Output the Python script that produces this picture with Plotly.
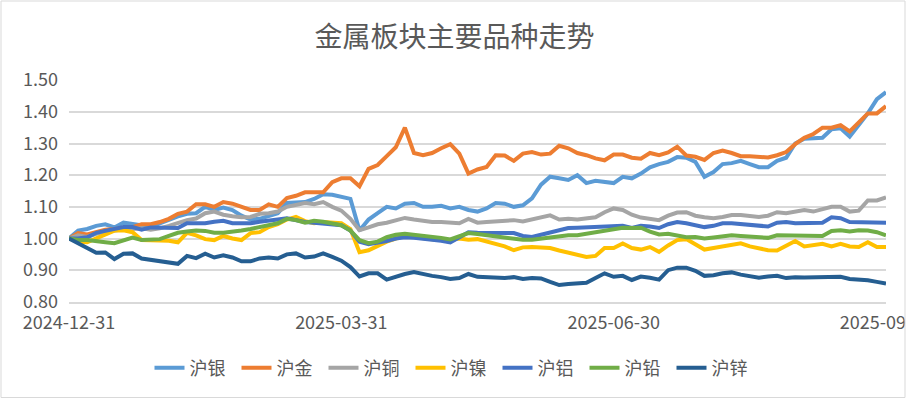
import plotly.graph_objects as go

title_text = "金属板块主要品种走势"
series_names = ["沪银", "沪金", "沪铜", "沪镍", "沪铝", "沪铅", "沪锌"]
series_colors = ["#5B9BD5", "#ED7D31", "#A5A5A5", "#FFC000", "#4472C4", "#70AD47", "#255E91"]

tick_positions = [0, 30, 60, 90]
tick_labels = ["2024-12-31", "2025-03-31", "2025-06-30", "2025-09-30"]

silver = [1.00, 1.025, 1.03, 1.04, 1.045, 1.035, 1.05, 1.045, 1.04, 1.037,
          1.048, 1.06, 1.07, 1.078, 1.08, 1.10, 1.09, 1.098, 1.09, 1.072,
          1.06, 1.062, 1.07, 1.08, 1.112, 1.115, 1.115, 1.125, 1.14, 1.138,
          1.13, 1.125, 1.025, 1.06, 1.08, 1.10, 1.095, 1.11, 1.112, 1.10,
          1.10, 1.103, 1.095, 1.10, 1.09, 1.085, 1.095, 1.112, 1.11, 1.10,
          1.105, 1.127, 1.17, 1.195, 1.19, 1.185, 1.20, 1.175, 1.182, 1.18,
          1.175, 1.195, 1.19, 1.205, 1.225, 1.235, 1.242, 1.257, 1.255, 1.242,
          1.195, 1.21, 1.235, 1.238, 1.245, 1.235, 1.225, 1.225, 1.245, 1.255,
          1.30, 1.315, 1.318, 1.318, 1.345, 1.348, 1.322, 1.36, 1.395, 1.44, 1.462]

gold = [1.00, 1.017, 1.013, 1.02, 1.028, 1.03, 1.033, 1.036, 1.045, 1.045,
        1.052, 1.062, 1.078, 1.085, 1.108, 1.108, 1.10, 1.115, 1.11, 1.10,
        1.09, 1.09, 1.108, 1.10, 1.128, 1.135, 1.146, 1.146, 1.146, 1.178,
        1.19, 1.19, 1.165, 1.22, 1.232, 1.26, 1.288, 1.35, 1.27, 1.263,
        1.27, 1.285, 1.298, 1.268, 1.205, 1.218, 1.226, 1.263, 1.262, 1.245,
        1.268, 1.273, 1.265, 1.268, 1.293, 1.285, 1.27, 1.263, 1.253, 1.247,
        1.265, 1.265, 1.255, 1.252, 1.27, 1.263, 1.272, 1.29, 1.262, 1.258,
        1.248, 1.27, 1.278, 1.27, 1.26, 1.26, 1.258, 1.256, 1.263, 1.273,
        1.298, 1.318, 1.33, 1.35, 1.35, 1.358, 1.338, 1.366, 1.395, 1.395, 1.418]

copper = [1.00, 1.01, 1.005, 1.015, 1.02, 1.025, 1.03, 1.03, 1.032, 1.028,
          1.032, 1.04, 1.05, 1.058, 1.063, 1.08, 1.085, 1.075, 1.07, 1.067,
          1.068, 1.078, 1.08, 1.085, 1.10, 1.105, 1.112, 1.108, 1.115, 1.10,
          1.088, 1.062, 1.026, 1.035, 1.045, 1.05, 1.057, 1.065, 1.06, 1.055,
          1.052, 1.052, 1.05, 1.048, 1.062, 1.05, 1.052, 1.053, 1.056, 1.058,
          1.054, 1.06, 1.066, 1.073, 1.06, 1.062, 1.06, 1.062, 1.067, 1.083,
          1.095, 1.09, 1.075, 1.066, 1.062, 1.058, 1.072, 1.082, 1.083, 1.072,
          1.067, 1.064, 1.068, 1.074, 1.074, 1.072, 1.068, 1.072, 1.083, 1.08,
          1.085, 1.09, 1.085, 1.092, 1.10, 1.10, 1.085, 1.088, 1.12, 1.12, 1.13]

nickel = [1.00, 0.99, 0.988, 1.00, 1.015, 1.025, 1.026, 1.02, 0.995, 0.995,
          0.995, 0.993, 0.988, 1.018, 1.01, 0.998, 0.995, 1.008, 1.00, 0.995,
          1.017, 1.02, 1.036, 1.045, 1.06, 1.068, 1.055, 1.048, 1.052, 1.05,
          1.048, 1.03, 0.957, 0.963, 0.978, 0.99, 1.00, 1.01, 1.005, 1.00,
          0.998, 0.996, 0.995, 1.00, 0.996, 0.998, 0.99, 0.985, 0.975, 0.963,
          0.972, 0.973, 0.973, 0.97, 0.962, 0.955, 0.948, 0.942, 0.945, 0.97,
          0.97, 0.984, 0.97, 0.965, 0.973, 0.958, 0.978, 0.995, 0.998, 0.98,
          0.965, 0.97, 0.975, 0.98, 0.985, 0.975, 0.968, 0.963, 0.962, 0.978,
          0.992, 0.975, 0.978, 0.983, 0.975, 0.983, 0.975, 0.973, 0.988, 0.973, 0.973]

aluminium = [1.00, 1.00, 1.004, 1.018, 1.024, 1.03, 1.036, 1.036, 1.028, 1.035,
             1.034, 1.033, 1.033, 1.048, 1.048, 1.048, 1.053, 1.056, 1.048, 1.048,
             1.048, 1.053, 1.058, 1.06, 1.064, 1.058, 1.052, 1.05, 1.048, 1.045,
             1.042, 1.025, 0.99, 0.982, 0.986, 0.992, 1.00, 1.004, 1.002, 1.00,
             0.998, 0.993, 0.988, 1.005, 1.02, 1.018, 1.017, 1.017, 1.017, 1.017,
             1.008, 1.005, 1.012, 1.02, 1.026, 1.033, 1.034, 1.035, 1.036, 1.04,
             1.04, 1.04, 1.033, 1.04, 1.038, 1.033, 1.045, 1.052, 1.048, 1.042,
             1.036, 1.04, 1.048, 1.048, 1.046, 1.042, 1.04, 1.038, 1.05, 1.052,
             1.048, 1.048, 1.05, 1.05, 1.067, 1.064, 1.052, 1.052, 1.05, 1.05, 1.05]

lead = [1.00, 0.995, 0.995, 0.99, 0.988, 0.985, 0.995, 1.003, 0.995, 0.995,
        0.998, 1.008, 1.018, 1.022, 1.025, 1.024, 1.018, 1.018, 1.02, 1.025,
        1.03, 1.037, 1.043, 1.048, 1.062, 1.058, 1.05, 1.056, 1.053, 1.048,
        1.042, 1.025, 0.995, 0.985, 0.99, 1.004, 1.012, 1.015, 1.012, 1.01,
        1.006, 1.002, 0.997, 1.008, 1.017, 1.014, 1.01, 1.008, 1.005, 1.00,
        0.996, 0.996, 1.00, 1.004, 1.007, 1.01, 1.01, 1.015, 1.02, 1.026,
        1.03, 1.034, 1.033, 1.034, 1.022, 1.013, 1.015, 1.01, 1.004, 1.005,
        1.00, 1.003, 1.008, 1.01, 1.008, 1.005, 1.002, 1.002, 1.01, 1.01,
        1.01, 1.01, 1.01, 1.008, 1.024, 1.026, 1.022, 1.026, 1.025, 1.02, 1.01]

zinc = [1.00, 0.985, 0.97, 0.955, 0.956, 0.935, 0.952, 0.953, 0.937, 0.933,
        0.93, 0.925, 0.92, 0.945, 0.938, 0.952, 0.94, 0.947, 0.94, 0.928,
        0.928, 0.937, 0.94, 0.937, 0.95, 0.953, 0.94, 0.943, 0.953, 0.942,
        0.93, 0.91, 0.88, 0.89, 0.89, 0.87, 0.88, 0.888, 0.894, 0.887,
        0.882, 0.878, 0.872, 0.875, 0.888, 0.879, 0.878, 0.876, 0.875, 0.878,
        0.872, 0.875, 0.874, 0.863, 0.853, 0.856, 0.857, 0.86, 0.875, 0.89,
        0.879, 0.882, 0.869, 0.88, 0.876, 0.87, 0.90, 0.908, 0.908, 0.898,
        0.882, 0.884, 0.89, 0.893, 0.886, 0.882, 0.876, 0.88, 0.882, 0.875,
        0.878, 0.877, 0.877, 0.878, 0.88, 0.879, 0.872, 0.871, 0.868, 0.863, 0.858]

all_series = [silver, gold, copper, nickel, aluminium, lead, zinc]

W, H = 909, 399
ML, MR, MT, MB = 69, 23, 80, 97
PW, PH = W - ML - MR, H - MT - MB

def px_x(p):
    return (p - ML) / PW

def px_y(p):
    return (H - MB - p) / PH

font_family = "Noto Sans CJK SC, Noto Sans, sans-serif"
text_color = "#595959"
grid_color = "#D9D9D9"

fig = go.Figure()
for name, color, vals in zip(series_names, series_colors, all_series):
    fig.add_trace(go.Scatter(
        x=list(range(len(vals))), y=vals, mode="lines", name=name,
        line=dict(color=color, width=4, shape="linear"),
        hoverinfo="skip",
    ))

fig.update_layout(
    width=W, height=H,
    margin=dict(l=ML, r=MR, t=MT, b=MB, pad=0, autoexpand=False),
    paper_bgcolor="white", plot_bgcolor="white",
    font=dict(family=font_family, color=text_color),
    title=dict(text=title_text, x=0.5, xref="container", xanchor="center",
               y=1 - 37 / H, yref="container", yanchor="middle",
               font=dict(size=28, color=text_color, family=font_family)),
    showlegend=True,
    legend=dict(orientation="h", x=px_x(454), xanchor="center",
                y=px_y(368), yanchor="middle",
                font=dict(size=18, color=text_color, family=font_family),
                entrywidth=42, entrywidthmode="pixels",
                itemwidth=30, bgcolor="rgba(0,0,0,0)", tracegroupgap=0),
    xaxis=dict(range=[0, 90], tickmode="array", tickvals=tick_positions,
               ticktext=tick_labels, showgrid=False, zeroline=False,
               showline=True, linecolor=grid_color, linewidth=2,
               ticks="", ticklabelstandoff=3, ticklabeloverflow="allow",
               automargin=False,
               tickfont=dict(size=18, color=text_color, family=font_family)),
    yaxis=dict(range=[0.7995, 1.5005], tickmode="linear", tick0=0.8, dtick=0.1,
               tickformat=".2f", showgrid=True, gridcolor=grid_color, gridwidth=2,
               zeroline=False, showline=False, ticks="", ticklabelstandoff=10,
               automargin=False,
               tickfont=dict(size=18, color=text_color, family=font_family)),
    shapes=[
        dict(type="rect", xref="paper", yref="paper", layer="above",
             x0=px_x(905.5), x1=px_x(920), y0=px_y(420), y1=px_y(-10),
             fillcolor="white", line=dict(width=0)),
        dict(type="rect", xref="paper", yref="paper", layer="above",
             x0=px_x(1), x1=px_x(905), y0=px_y(397.5), y1=px_y(1),
             fillcolor="rgba(0,0,0,0)", line=dict(color=grid_color, width=1)),
    ],
)

fig.write_html("out.html",
               config={"displayModeBar": False, "staticPlot": True},
               post_script="document.body.style.margin='0';document.body.style.overflow='hidden';")
